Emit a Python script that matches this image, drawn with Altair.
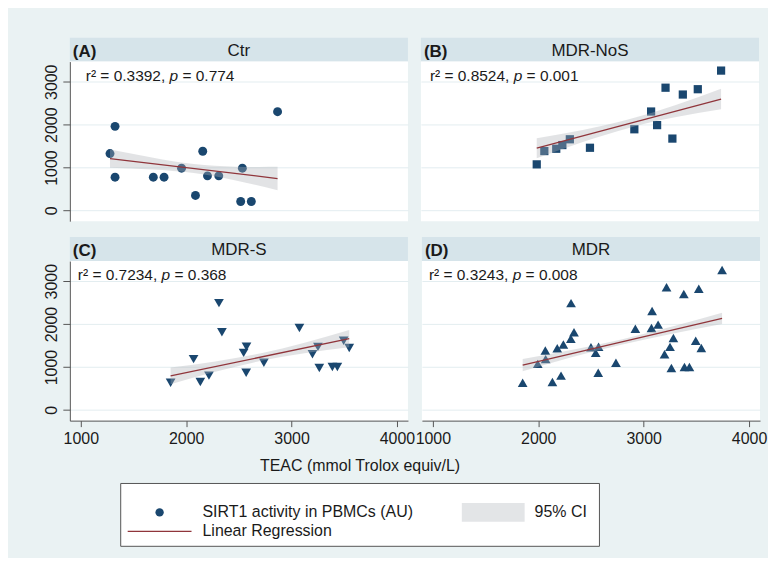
import math
import altair as alt
import pandas as pd

# ---------------- data ----------------
groups = ["Ctr", "MDR-NoS", "MDR-S", "MDR"]
letters = ["(A)", "(B)", "(C)", "(D)"]
r2_text = ["0.3392", "0.8524", "0.7234", "0.3243"]
p_text = ["0.774", "0.001", "0.368", "0.008"]

ctr_teac = [1277, 1325, 1325, 1688, 1790, 1956, 2088, 2157, 2202, 2309, 2533, 2517, 2618, 2867]
ctr_sirt1 = [1326, 1960, 775, 775, 775, 985, 349, 1380, 806, 806, 985, 209, 209, 2302]

nos_teac = [1995, 2067, 2180, 2238, 2309, 2500, 2921, 3080, 3137, 3217, 3282, 3381, 3523, 3744]
nos_sirt1 = [1074, 1384, 1438, 1524, 1659, 1461, 1892, 2306, 1989, 2861, 1675, 2702, 2826, 3260]

s_teac = [1852, 2070, 2134, 2216, 2311, 2339, 2545, 2572, 2569, 2737, 3074, 3198, 3250, 3263,
          3387, 3434, 3494, 3547]
s_sirt1 = [632, 1183, 652, 799, 2489, 1810, 1330, 1473, 865, 1101, 1911, 1299, 1469, 977,
           1000, 1000, 1613, 1442]

# MDR = MDR-NoS + MDR-S patients
mdr_teac = nos_teac + s_teac
mdr_sirt1 = nos_sirt1 + s_sirt1

fit_x = [[1277, 2867], [1995, 3744], [1852, 3547], [1852, 3744]]
fit_y = [[1209, 744], [1450, 2597], [793, 1660], [1045, 2132]]

ci_x = [[1277, 1675, 2072, 2470, 2867], [1995, 2432, 2870, 3307, 3744],
        [1852, 2276, 2700, 3123, 3547], [1852, 2325, 2798, 3271, 3744]]
ci_lo = [[997, 953, 871, 700, 472], [1218, 1595, 1923, 2170, 2357],
         [600, 890, 1139, 1323, 1460], [902, 1231, 1526, 1775, 2001]]
ci_hi = [[1421, 1233, 1081, 1020, 1016], [1682, 1875, 2123, 2450, 2837],
         [986, 1130, 1315, 1563, 1860], [1188, 1401, 1650, 1945, 2263]]

x_ticks = [1000, 2000, 3000, 4000]
y_ticks = [0, 1000, 2000, 3000]
x_title = "TEAC (mmol Trolox equiv/L)"
legend_labels = ["SIRT1 activity in PBMCs (AU)", "95% CI", "Linear Regression"]

# ---------------- style ----------------
FONT = "Liberation Sans"
NAVY = "#1a476f"
MAROON = "#90353b"
BG = "#eaf2f3"
HDR = "#d6e4ea"
GRID = "#e3edf0"
AX = "#555555"
TXT = "#1a1a1a"
W, H, HH = 339, 160, 24
XDOM = [896, 4104]
YDOM = [-250, 3470]
ANN_FS = 15.5
TICK_FS = 16
ann_dx = [16, 9, 8, 7]

AW = {"r": .333, "\u00b2": .333, " ": .278, "=": .584, ".": .278, ",": .278, "p": .556}


def tw(s, fs):
    return sum(AW.get(c, .556) for c in s) * fs


def panel(i, xs, ys, shape, size, left, bottom):
    xsc = alt.Scale(domain=XDOM, nice=False, zero=False)
    ysc = alt.Scale(domain=YDOM, nice=False, zero=False)
    if bottom:
        xaxis = alt.Axis(values=x_ticks, format="d", grid=False, domainColor=AX, tickColor=AX,
                         tickSize=6, labelFontSize=TICK_FS, labelColor=TXT, labelPadding=4,
                         labelFlush=False, labelOverlap=False, labelFont=FONT, title=None)
    else:
        xaxis = None
    if left:
        yaxis = alt.Axis(values=y_ticks, format="d", grid=True, gridColor=GRID, domainColor=AX,
                         tickColor=AX, tickSize=7, labelFontSize=TICK_FS, labelColor=TXT,
                         labelAngle=270, labelAlign="center", labelBaseline="bottom",
                         labelPadding=3, labelOverlap=False, labelFont=FONT, title=None)
    else:
        yaxis = alt.Axis(values=y_ticks, grid=True, gridColor=GRID, domain=False, ticks=False,
                         labels=False, title=None)
    X = lambda f: alt.X(f, type="quantitative", scale=xsc, axis=xaxis)
    Y = lambda f: alt.Y(f, type="quantitative", scale=ysc, axis=yaxis)

    pts = pd.DataFrame({"TEAC": xs, "SIRT1": ys})
    points = alt.Chart(pts).mark_point(filled=True, shape=shape, size=size, color=NAVY,
                                       opacity=1).encode(x=X("TEAC"), y=Y("SIRT1"))
    ci = pd.DataFrame({"TEAC": ci_x[i], "lo": ci_lo[i], "hi": ci_hi[i]})
    band = alt.Chart(ci).mark_area(color="#aeb2b6", opacity=0.36, interpolate="natural").encode(
        x=X("TEAC"), y=Y("lo"), y2="hi")
    fit = pd.DataFrame({"TEAC": fit_x[i], "SIRT1": fit_y[i]})
    line = alt.Chart(fit).mark_line(color=MAROON, strokeWidth=1.3).encode(x=X("TEAC"), y=Y("SIRT1"))

    seg1 = "r\u00b2 = " + r2_text[i] + ", "
    seg3 = "= " + p_text[i]
    x0 = ann_dx[i]
    yv = 14
    ann = pd.DataFrame({"a": [seg1], "b": ["p"], "c": [seg3]})
    t1 = alt.Chart(ann).mark_text(align="left", baseline="middle", font=FONT, fontSize=ANN_FS,
                                  color=TXT).encode(text="a:N", x=alt.value(x0), y=alt.value(yv))
    t2 = alt.Chart(ann).mark_text(align="left", baseline="middle", font=FONT, fontSize=ANN_FS,
                                  fontStyle="italic", color=TXT).encode(
        text="b:N", x=alt.value(x0 + tw(seg1, ANN_FS)), y=alt.value(yv))
    t3 = alt.Chart(ann).mark_text(align="left", baseline="middle", font=FONT, fontSize=ANN_FS,
                                  color=TXT).encode(
        text="c:N", x=alt.value(x0 + tw(seg1, ANN_FS) + tw("p ", ANN_FS)), y=alt.value(yv))

    plot = alt.layer(points, band, line, t1, t2, t3).properties(
        width=W, height=H, view=alt.ViewBackground(fill="white", stroke="transparent"))

    hd = pd.DataFrame({"g": [groups[i]], "l": [letters[i]]})
    h1 = alt.Chart(hd).mark_text(font=FONT, fontSize=17, color=TXT, baseline="middle").encode(
        text="g:N", x=alt.value(W / 2), y=alt.value(HH / 2 + 1))
    h2 = alt.Chart(hd).mark_text(font=FONT, fontSize=17, fontWeight="bold", color=TXT,
                                 align="left", baseline="middle").encode(
        text="l:N", x=alt.value(3), y=alt.value(HH / 2 + 2))
    header = alt.layer(h1, h2).properties(
        width=W, height=HH, view=alt.ViewBackground(fill=HDR, stroke="transparent"))
    return alt.vconcat(header, plot, spacing=0)


pA = panel(0, ctr_teac, ctr_sirt1, "circle", 80, True, False)
pB = panel(1, nos_teac, nos_sirt1, "square", 68, False, False)
pC = panel(2, s_teac, s_sirt1, "triangle-down", 95, True, True)
pD = panel(3, mdr_teac, mdr_sirt1, "triangle-up", 95, False, True)

# overhanging tick labels (4000 | 1000) eat into the spacing of the bottom row
half_lab = 2.224 * TICK_FS / 2
over = half_lab - 11
row1 = alt.hconcat(pA, pB, spacing=13)
row2 = alt.hconcat(pC, pD, spacing=max(0, 13 - 2 * over))

# ---------------- bottom: axis title + legend box ----------------
one = pd.DataFrame({"t": [x_title], "l0": [legend_labels[0]], "l1": [legend_labels[1]],
                    "l2": [legend_labels[2]]})
base = alt.Chart(one)
title = base.mark_text(font=FONT, fontSize=16, color=TXT, baseline="middle").encode(
    text="t:N", x=alt.value(291), y=alt.value(19))
box = base.mark_rect(fill="white", stroke="#555555", strokeWidth=1).encode(
    x=alt.value(51), x2=alt.value(531), y=alt.value(37), y2=alt.value(100))
lg_pt = base.mark_point(filled=True, shape="circle", size=70, color=NAVY, opacity=1).encode(
    x=alt.value(90), y=alt.value(66))
lg_ci = base.mark_rect(fill="#e3e5e7").encode(
    x=alt.value(393), x2=alt.value(456), y=alt.value(56.5), y2=alt.value(75.5))
lg_ln = base.mark_rule(color=MAROON, strokeWidth=1.3).encode(
    x=alt.value(58), x2=alt.value(122), y=alt.value(85))
lt0 = base.mark_text(font=FONT, fontSize=16, color=TXT, align="left", baseline="middle").encode(
    text="l0:N", x=alt.value(133), y=alt.value(66))
lt1 = base.mark_text(font=FONT, fontSize=16, color=TXT, align="left", baseline="middle").encode(
    text="l1:N", x=alt.value(466), y=alt.value(66))
lt2 = base.mark_text(font=FONT, fontSize=16, color=TXT, align="left", baseline="middle").encode(
    text="l2:N", x=alt.value(133), y=alt.value(85))
bottom = alt.layer(title, box, lg_pt, lg_ci, lg_ln, lt0, lt1, lt2).properties(
    width=560, height=101, view=alt.ViewBackground(fill="transparent", stroke="transparent"))

chart = alt.vconcat(alt.vconcat(row1, row2, spacing=16), bottom, spacing=0).properties(
    background=BG, padding={"left": 35, "top": 29, "right": 1, "bottom": 10}
).configure_view(strokeWidth=0)

chart.save("out.html", embed_options={"renderer": "svg", "actions": False})
